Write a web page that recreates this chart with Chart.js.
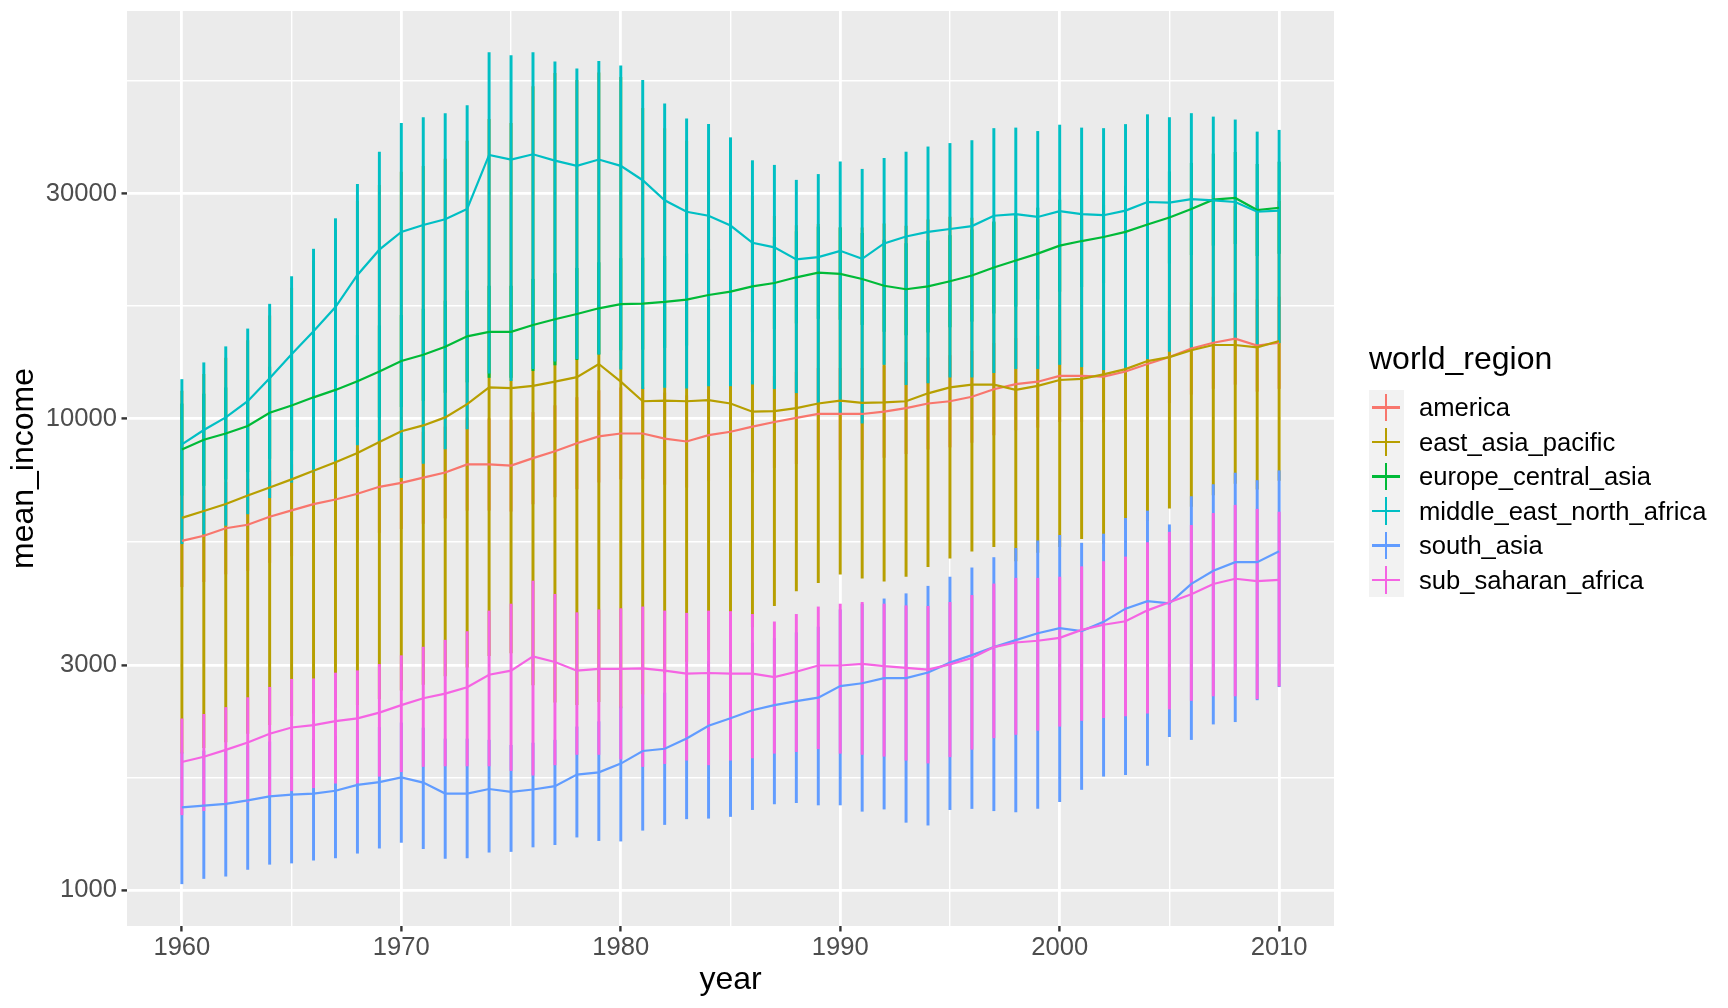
<!DOCTYPE html>
<html>
<head>
<meta charset="utf-8">
<script src="https://cdn.jsdelivr.net/npm/chart.js@4.4.1/dist/chart.umd.min.js"></script>
<style>
  body { margin: 0; background: #ffffff; }
  #wrap { position: relative; width: 1728px; height: 1008px; font-family: 'Liberation Sans', Arial, sans-serif; }
  #chart { position: absolute; left: 0; top: 0; }
  .legend-title { position: absolute; left: 1369px; top: 342px; font-size: 32px; line-height: 32px; color: #000; white-space: nowrap; }
  .key { position: absolute; left: 1369px; width: 34.5px; height: 34.5px; background: #F2F2F2; }
  .key .h { position: absolute; left: 3.45px; width: 27.6px; top: 16.2px; height: 2.1px; }
  .key .v { position: absolute; top: 3.45px; height: 27.6px; left: 16.2px; width: 2.1px; }
  .label { position: absolute; left: 1419px; font-size: 25.6px; line-height: 34.5px; height: 34.5px; color: #000; white-space: nowrap; }
</style>
</head>
<body>
<div id="wrap">
  <canvas id="chart" width="1728" height="1008"></canvas>
  <div id="legend"></div>
</div>
<script>
// years on the x axis
const years = [1960, 1961, 1962, 1963, 1964, 1965, 1966, 1967, 1968, 1969,
  1970, 1971, 1972, 1973, 1974, 1975, 1976, 1977, 1978, 1979,
  1980, 1981, 1982, 1983, 1984, 1985, 1986, 1987, 1988, 1989,
  1990, 1991, 1992, 1993, 1994, 1995, 1996, 1997, 1998, 1999,
  2000, 2001, 2002, 2003, 2004, 2005, 2006, 2007, 2008, 2009, 2010];

const regions = ['america', 'east_asia_pacific', 'europe_central_asia',
  'middle_east_north_africa', 'south_asia', 'sub_saharan_africa'];
const colors = ['#F8766D', '#B79F00', '#00BA38', '#00BFC4', '#619CFF', '#F564E3'];

// tick positions (log y, linear x)
const yMajorTicks = [1000, 3000, 10000, 30000];
const yMinorTicks = [1732, 5477, 17321, 51962];
const xMajorTicks = [1960, 1970, 1980, 1990, 2000, 2010];
const xMinorTicks = [1965, 1975, 1985, 1995, 2005];

// america
const americaMean = [5502, 5642, 5853, 5952, 6191, 6384, 6585, 6734, 6925, 7164,
  7305, 7491, 7683, 7991, 7991, 7945, 8241, 8523, 8864, 9167,
  9296, 9296, 9066, 8940, 9219, 9376, 9614, 9833, 10030, 10225,
  10225, 10225, 10340, 10520, 10760, 10880, 11120, 11540, 11830, 11970,
  12310, 12310, 12270, 12580, 13050, 13500, 14080, 14480, 14770, 14280, 14480];
const americaLow = [4400, 4510, 4680, 4760, 4950, 5110, 5270, 5390, 5540, 5730,
  5840, 5990, 6150, 6390, 6390, 6360, 6590, 6820, 7090, 7330,
  7440, 7440, 7250, 7150, 7380, 7500, 7690, 7870, 8020, 8180,
  8180, 8180, 8270, 8420, 8610, 8700, 8900, 9230, 9460, 9580,
  9850, 9850, 9820, 10060, 10440, 10800, 11260, 11580, 11820, 11420, 11580];
const americaHigh = [6880, 7050, 7320, 7440, 7740, 7980, 8230, 8420, 8660, 8960,
  9130, 9360, 9600, 9990, 9990, 9930, 10300, 10650, 11080, 11460,
  11620, 11620, 11330, 11180, 11520, 11720, 12020, 12290, 12540, 12780,
  12780, 12780, 12930, 13150, 13450, 13600, 13900, 14430, 14790, 14960,
  15390, 15390, 15340, 15730, 16310, 16880, 17600, 18100, 18460, 17850, 18100];

// east_asia_pacific
const eastAsiaMean = [6157, 6367, 6585, 6868, 7143, 7429, 7749, 8080, 8451, 8915,
  9401, 9669, 10055, 10730, 11640, 11600, 11730, 11970, 12240, 13050,
  11970, 10880, 10910, 10880, 10940, 10760, 10340, 10370, 10520, 10760,
  10910, 10790, 10820, 10880, 11310, 11640, 11800, 11800, 11500, 11730,
  12070, 12140, 12410, 12730, 13240, 13500, 13960, 14320, 14320, 14160, 14600];
const eastAsiaLow = [1950, 2005, 2062, 2150, 2243, 2340, 2372, 2439, 2474, 2544,
  2654, 2730, 2846, 2968, 3141, 3185, 2722, 2502, 2474, 2509,
  2433, 2602, 2886, 3053, 3229, 3416, 3613, 4008, 4311, 4484,
  4676, 4585, 4522, 4624, 4851, 5058, 5230, 5350, 4988, 5201,
  5350, 5564, 5426, 5819, 6069, 6457, 6511, 6887, 7285, 7084, 7388];
const eastAsiaHigh = [11440, 12410, 13430, 14640, 16520, 18900, 21630, 25090, 28870, 31220,
  33310, 34250, 35520, 38750, 43110, 42280, 50580, 53950, 52180, 54100,
  52900, 45470, 41220, 38750, 37050, 33870, 29610, 26840, 25660, 25800,
  25440, 25370, 25880, 25590, 26390, 26760, 26610, 26030, 26540, 26460,
  27210, 26460, 28390, 27830, 28870, 28230, 29940, 29770, 28150, 28310, 28870];

// europe_central_asia
const europeMean = [8594, 9014, 9296, 9643, 10285, 10660, 11090, 11500, 12000, 12580,
  13240, 13650, 14200, 14940, 15270, 15270, 15790, 16240, 16660, 17130,
  17480, 17520, 17670, 17870, 18280, 18590, 19060, 19380, 19930, 20380,
  20270, 19770, 19120, 18800, 19060, 19550, 20100, 20910, 21630, 22370,
  23260, 23790, 24260, 24880, 25800, 26690, 27830, 29120, 29360, 27680, 27990];
const europeLow = [6880, 7210, 7440, 7710, 8230, 8530, 8870, 9200, 9600, 10060,
  10590, 10920, 11360, 11950, 12220, 12220, 12630, 12990, 13330, 13700,
  13980, 14020, 14140, 14300, 14620, 14870, 15250, 15500, 15940, 16300,
  16220, 15820, 15300, 15040, 15250, 15640, 16080, 16730, 17300, 17900,
  18610, 19030, 19410, 19900, 20640, 21350, 22260, 23300, 23490, 22140, 22390];
const europeHigh = [10740, 11270, 11620, 12050, 12860, 13330, 13860, 14380, 15000, 15730,
  16550, 17060, 17750, 18680, 19090, 19090, 19740, 20300, 20830, 21410,
  21850, 21900, 22090, 22340, 22850, 23240, 23830, 24230, 24910, 25480,
  25340, 24710, 23900, 23500, 23830, 24440, 25130, 26140, 27040, 27960,
  29080, 29740, 30330, 31100, 32250, 33360, 34790, 36400, 36700, 34600, 34990];

// middle_east_north_africa
const menaMean = [8815, 9454, 10055, 10880, 12170, 13690, 15310, 17230, 20160, 22810,
  24880, 25730, 26460, 27830, 36230, 35420, 36340, 35230, 34350, 35420,
  34350, 32020, 29030, 27450, 26920, 25660, 23590, 23070, 21750, 21990,
  22680, 21810, 23520, 24330, 24880, 25230, 25590, 26920, 27140, 26760,
  27530, 27140, 26990, 27600, 28790, 28710, 29200, 29030, 28790, 27450, 27600];
const menaLow = [5426, 5690, 5935, 6278, 6791, 7325, 7704, 8102, 8790, 8915,
  7491, 8035, 8618, 9508, 12480, 12030, 12760, 13240, 13390, 13690,
  12730, 11570, 11640, 11600, 11730, 11730, 11830, 11570, 11340, 10790,
  10200, 9778, 13020, 11800, 11900, 12240, 12240, 12510, 12760, 12760,
  13020, 12870, 12690, 12830, 13390, 13880, 14160, 14480, 14690, 14360, 14480];
const menaHigh = [12100, 13130, 14200, 15490, 17480, 20000, 22870, 26540, 31400, 36740,
  42280, 43480, 44350, 46110, 59700, 58870, 59700, 57070, 55180, 57230,
  55960, 52180, 46500, 43230, 42040, 39410, 35230, 34450, 32020, 32940,
  35030, 33780, 35630, 36740, 37680, 38320, 38860, 41220, 41330, 40640,
  41920, 41330, 41220, 42040, 44100, 43480, 44350, 43610, 42990, 40530, 40870];

// south_asia
const southAsiaMean = [1497, 1510, 1523, 1549, 1580, 1593, 1602, 1624, 1671, 1694,
  1733, 1690, 1602, 1602, 1638, 1615, 1634, 1661, 1757, 1777,
  1854, 1972, 1994, 2097, 2231, 2313, 2406, 2467, 2516, 2559,
  2707, 2745, 2815, 2815, 2894, 3036, 3150, 3275, 3388, 3504,
  3593, 3543, 3705, 3952, 4100, 4054, 4459, 4755, 4960, 4960, 5230];
const southAsiaLow = [1031, 1058, 1070, 1106, 1134, 1141, 1157, 1170, 1197, 1227,
  1262, 1224, 1167, 1170, 1203, 1207, 1234, 1248, 1295, 1273,
  1270, 1339, 1377, 1416, 1420, 1432, 1481, 1523, 1532, 1515,
  1515, 1469, 1485, 1392, 1373, 1481, 1489, 1473, 1465, 1489,
  1540, 1634, 1743, 1757, 1838, 2115, 2085, 2249, 2275, 2531, 2699];
const southAsiaHigh = [1955, 1972, 1988, 2022, 2062, 2079, 2091, 2120, 2181, 2212,
  2262, 2206, 2091, 2091, 2079, 2028, 2050, 2079, 2218, 2275,
  2447, 2595, 2617, 2791, 3053, 3203, 3341, 3416, 3513, 3613,
  3930, 4042, 4145, 4251, 4409, 4611, 4823, 5072, 5305, 5502,
  5656, 5441, 5690, 6140, 6367, 5952, 6830, 7243, 7662, 7388, 7749];

// sub_saharan_africa
const ssaMean = [1869, 1917, 1983, 2056, 2145, 2212, 2237, 2281, 2313, 2379,
  2467, 2551, 2609, 2692, 2862, 2919, 3131, 3045, 2919, 2944,
  2944, 2952, 2919, 2878, 2886, 2878, 2878, 2830, 2903, 2994,
  2994, 3019, 2985, 2960, 2935, 3010, 3105, 3275, 3350, 3378,
  3426, 3563, 3653, 3715, 3919, 4076, 4239, 4459, 4573, 4522, 4547];
const ssaLow = [1444, 1473, 1515, 1537, 1580, 1624, 1648, 1685, 1685, 1743,
  1782, 1828, 1833, 1833, 1833, 1792, 1752, 1843, 1939, 1939,
  1896, 1828, 1854, 1885, 1843, 1885, 1906, 1950, 1966, 1994,
  1950, 1939, 1922, 1885, 1859, 1917, 1988, 2103, 2138, 2181,
  2225, 2288, 2320, 2340, 2372, 2420, 2523, 2580, 2580, 2544, 2707];
const ssaHigh = [2307, 2359, 2439, 2559, 2692, 2799, 2806, 2886, 2919, 3010,
  3141, 3275, 3388, 3533, 3908, 4042, 4522, 4239, 3875, 3930,
  3952, 3986, 3908, 3865, 3908, 3897, 3843, 3705, 3843, 3986,
  4042, 4076, 4042, 4008, 3997, 4076, 4216, 4459, 4585, 4585,
  4611, 4851, 4974, 5087, 5457, 5741, 5935, 6295, 6549, 6422, 6333];

const meanSeries = [americaMean, eastAsiaMean, europeMean, menaMean, southAsiaMean, ssaMean];
const lowSeries = [americaLow, eastAsiaLow, europeLow, menaLow, southAsiaLow, ssaLow];
const highSeries = [americaHigh, eastAsiaHigh, europeHigh, menaHigh, southAsiaHigh, ssaHigh];

const FONT = "'Liberation Sans', Arial, sans-serif";

// error bars first (america at the bottom), then the lines on top
const errorbarSets = regions.map((r, i) => ({
  type: 'bar',
  label: r + ' range',
  data: years.map((yr, j) => ({ x: yr, y: [lowSeries[i][j], highSeries[i][j]] })),
  backgroundColor: colors[i],
  borderWidth: 0,
  barThickness: 2.3,
  grouped: false,
  order: 12 - i
}));

const lineSets = regions.map((r, i) => ({
  type: 'line',
  label: r,
  data: years.map((yr, j) => ({ x: yr, y: meanSeries[i][j] })),
  borderColor: colors[i],
  borderWidth: 2.2,
  pointRadius: 0,
  tension: 0,
  fill: false,
  order: 6 - i
}));

// grey panel behind the grid
const panelBackground = {
  id: 'panelBackground',
  beforeDraw(chart) {
    const { ctx, chartArea: a } = chart;
    ctx.save();
    ctx.fillStyle = '#EBEBEB';
    ctx.fillRect(a.left, a.top, a.right - a.left, a.bottom - a.top);
    ctx.restore();
  }
};

const isMinor = (c, list) => c.tick && list.includes(c.tick.value);

new Chart(document.getElementById('chart'), {
  type: 'line',
  data: { datasets: [...errorbarSets, ...lineSets] },
  plugins: [panelBackground],
  options: {
    responsive: false,
    devicePixelRatio: 1,
    animation: false,
    events: [],
    layout: { padding: { left: 0, right: 394, top: 11, bottom: 0 } },
    plugins: { legend: { display: false }, tooltip: { enabled: false } },
    scales: {
      x: {
        type: 'linear',
        min: 1957.5,
        max: 2012.5,
        offset: false,
        afterBuildTicks: (s) => {
          s.ticks = xMajorTicks.concat(xMinorTicks).sort((a, b) => a - b).map(v => ({ value: v }));
        },
        afterFit: (s) => { s.height = 82; s.paddingLeft = 0; s.paddingRight = 0; },
        border: { display: false },
        grid: {
          offset: false,
          color: '#FFFFFF',
          lineWidth: (c) => isMinor(c, xMinorTicks) ? 1.4 : 2.8,
          tickColor: (c) => isMinor(c, xMinorTicks) ? 'rgba(0,0,0,0)' : '#333333',
          tickLength: 5.5,
          tickWidth: 2.4
        },
        ticks: {
          autoSkip: false,
          maxRotation: 0,
          padding: 1,
          color: '#4D4D4D',
          font: { family: FONT, size: 25.6 },
          callback: (v) => xMajorTicks.includes(v) ? String(v) : ''
        },
        title: {
          display: true,
          text: 'year',
          color: '#000000',
          font: { family: FONT, size: 32 },
          padding: { top: 0, bottom: 9 }
        }
      },
      y: {
        type: 'logarithmic',
        min: 839,
        max: 73160,
        afterBuildTicks: (s) => {
          s.ticks = yMajorTicks.concat(yMinorTicks).sort((a, b) => a - b).map(v => ({ value: v }));
        },
        afterFit: (s) => { s.width = 127; s.paddingTop = 0; s.paddingBottom = 0; },
        border: { display: false },
        grid: {
          color: '#FFFFFF',
          lineWidth: (c) => isMinor(c, yMinorTicks) ? 1.4 : 2.8,
          tickColor: (c) => isMinor(c, yMinorTicks) ? 'rgba(0,0,0,0)' : '#333333',
          tickLength: 5.5,
          tickWidth: 2.4
        },
        ticks: {
          autoSkip: false,
          padding: 4.5,
          color: '#4D4D4D',
          font: { family: FONT, size: 25.6 },
          callback: (v) => yMajorTicks.includes(v) ? String(v) : ''
        },
        title: {
          display: true,
          text: 'mean_income',
          color: '#000000',
          font: { family: FONT, size: 32 },
          padding: { top: 5, bottom: 0 }
        }
      }
    }
  }
});

// legend, ggplot style
const legend = document.getElementById('legend');
const title = document.createElement('div');
title.className = 'legend-title';
title.textContent = 'world_region';
legend.appendChild(title);
regions.forEach((r, i) => {
  const top = 390.3 + i * 34.5;
  const key = document.createElement('div');
  key.className = 'key';
  key.style.top = top + 'px';
  key.innerHTML = '<div class="h"></div><div class="v"></div>';
  key.querySelectorAll('div').forEach(d => { d.style.background = colors[i]; });
  legend.appendChild(key);
  const label = document.createElement('div');
  label.className = 'label';
  label.style.top = top + 'px';
  label.textContent = r;
  legend.appendChild(label);
});
</script>
</body>
</html>
